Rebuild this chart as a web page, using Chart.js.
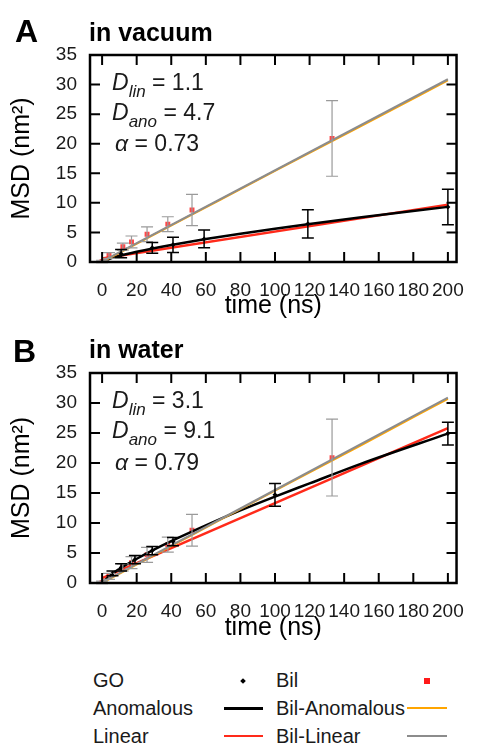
<!DOCTYPE html>
<html>
<head>
<meta charset="utf-8">
<script src="https://cdn.jsdelivr.net/npm/chart.js@4/dist/chart.umd.min.js"></script>
<style>
  html, body { margin:0; padding:0; background:#fff; }
  body { width:481px; height:743px; position:relative; overflow:hidden; font-family:"Liberation Sans", Arial, sans-serif; color:#1a1a1a; }
  canvas { position:absolute; left:0; }
  .t { position:absolute; line-height:1; white-space:nowrap; }
  .panel { font-weight:bold; font-size:32px; color:#000; }
  .ptitle { font-weight:bold; font-size:25px; color:#000; }
  .ann { font-size:23px; }
  .ann sub { font-size:17px; vertical-align:-7px; line-height:1; font-style:italic; }
  .leg { font-size:20px; }
  .ls { position:absolute; }
</style>
</head>
<body>
<canvas id="cA" width="481" height="330" style="top:0px"></canvas>
<canvas id="cB" width="481" height="320" style="top:330px"></canvas>

<div class="t panel" style="left:15px; top:14.6px">A</div>
<div class="t ptitle" style="left:89px; top:19.5px">in vacuum</div>
<div class="t ann" style="left:112px; top:70.5px"><i>D</i><sub>lin</sub> = 1.1</div>
<div class="t ann" style="left:112px; top:100.5px"><i>D</i><sub>ano</sub> = 4.7</div>
<div class="t ann" style="left:115px; top:131.5px"><i>α</i> = 0.73</div>

<div class="t panel" style="left:13px; top:334.6px">B</div>
<div class="t ptitle" style="left:89px; top:337.1px">in water</div>
<div class="t ann" style="left:112px; top:388.5px"><i>D</i><sub>lin</sub> = 3.1</div>
<div class="t ann" style="left:112px; top:418.5px"><i>D</i><sub>ano</sub> = 9.1</div>
<div class="t ann" style="left:115px; top:450.5px"><i>α</i> = 0.79</div>

<!-- legend -->
<div class="t leg" style="left:93px; top:670px">GO</div>
<div class="t leg" style="left:276px; top:670px">Bil</div>
<div class="t leg" style="left:93px; top:698px">Anomalous</div>
<div class="t leg" style="left:276px; top:698px">Bil-Anomalous</div>
<div class="t leg" style="left:93px; top:726px">Linear</div>
<div class="t leg" style="left:276px; top:726px">Bil-Linear</div>
<div class="ls" style="left:241px; top:679px; width:4px; height:4px; background:#000; transform:rotate(45deg)"></div>
<div class="ls" style="left:424px; top:678px; width:6px; height:6px; background:#ff1a1a"></div>
<div class="ls" style="left:224px; top:706.5px; width:39px; height:3px; background:#000"></div>
<div class="ls" style="left:407px; top:707px; width:40px; height:2px; background:#ffa500"></div>
<div class="ls" style="left:224px; top:735px; width:39px; height:2px; background:#ff2a1a"></div>
<div class="ls" style="left:407px; top:734.5px; width:40px; height:2.5px; background:#8c8c8c"></div>

<script>
// ---------- data ----------
const xTickValues = [0, 20, 40, 60, 80, 100, 120, 140, 160, 180, 200];
const yTickValues = [0, 5, 10, 15, 20, 25, 30, 35];

// Bilayer reference (same in both panels)
const bilTime = [0, 4, 12, 17, 26, 38, 52, 133];
const bilMsd  = [0.1, 1.1, 2.6, 3.4, 4.7, 6.4, 8.8, 20.9];
const bilErr  = [0.2, 0.5, 0.6, 1.0, 1.25, 1.25, 2.65, 6.4];
const bilLinTime = [0, 200];
const bilLinMsd  = [0.1, 30.9];
const bilAnoTime = [0, 50, 100, 150, 200];
const bilAnoMsd  = [0, 7.7, 15.4, 23.0, 30.7];

// GO in vacuum
const vacGoTime = [0, 11, 29, 41, 59, 119, 200];
const vacGoMsd  = [0, 1.4, 2.4, 2.9, 3.9, 6.45, 9.3];
const vacGoErr  = [0, 0.7, 0.9, 1.3, 1.5, 2.4, 3.0];
const vacAnoTime = [0, 5, 10, 20, 30, 40, 60, 80, 100, 120, 150, 200];
const vacAnoMsd  = [0, 0.63, 1.05, 1.74, 2.34, 2.88, 3.88, 4.78, 5.62, 6.41, 7.55, 9.32];
const vacLinTime = [0, 200];
const vacLinMsd  = [0.6, 9.7];

// GO in water
const watGoTime = [0, 6, 11, 19, 29, 41, 100, 200];
const watGoMsd  = [0, 1.6, 2.6, 3.9, 5.4, 6.9, 14.7, 24.9];
const watGoErr  = [0, 0.4, 0.6, 0.7, 0.7, 0.7, 1.9, 1.9];
const watAnoTime = [0, 5, 10, 20, 30, 40, 60, 80, 100, 120, 150, 200];
const watAnoMsd  = [0, 1.35, 2.34, 4.04, 5.57, 6.98, 9.6, 12.1, 14.4, 16.6, 19.9, 24.9];
const watLinTime = [0, 200];
const watLinMsd  = [0.8, 25.8];

// ---------- helpers ----------
const pts = (xs, ys) => xs.map((x, i) => ({x, y: ys[i]}));

const framePlugin = {
  id: 'frame',
  afterDraw(chart) {
    const {ctx, chartArea: a, scales: {x, y}} = chart;
    ctx.save();
    ctx.strokeStyle = '#000';
    ctx.lineWidth = 2;
    ctx.beginPath();
    x.ticks.forEach(t => {
      const px = x.getPixelForValue(t.value);
      ctx.moveTo(px, a.bottom); ctx.lineTo(px, a.bottom - 10);
      ctx.moveTo(px, a.top); ctx.lineTo(px, a.top + 10);
    });
    y.ticks.forEach(t => {
      const py = y.getPixelForValue(t.value);
      ctx.moveTo(a.left, py); ctx.lineTo(a.left + 10, py);
      ctx.moveTo(a.right, py); ctx.lineTo(a.right - 10, py);
    });
    ctx.stroke();
    ctx.lineWidth = 2.5;
    ctx.strokeRect(a.left, a.top, a.right - a.left, a.bottom - a.top);
    ctx.restore();
  }
};

const errPlugin = {
  id: 'errbars',
  afterDatasetsDraw(chart, args, opts) {
    const {ctx, scales: {x, y}} = chart;
    ctx.save();
    (opts.sets || []).forEach(s => {
      ctx.strokeStyle = s.color;
      ctx.lineWidth = s.width;
      ctx.beginPath();
      s.t.forEach((t, i) => {
        if (!s.e[i]) return;
        const px = x.getPixelForValue(t);
        const pl = y.getPixelForValue(s.v[i] - s.e[i]);
        const ph = y.getPixelForValue(s.v[i] + s.e[i]);
        ctx.moveTo(px, pl); ctx.lineTo(px, ph);
        ctx.moveTo(px - s.cap, pl); ctx.lineTo(px + s.cap, pl);
        ctx.moveTo(px - s.cap, ph); ctx.lineTo(px + s.cap, ph);
      });
      ctx.stroke();
    });
    ctx.restore();
  }
};

function makeChart(id, topPad, titlePadBottom, scaleH, go, ano, lin) {
  const lineDs = (data, color, w, order) => ({
    type: 'line', data, borderColor: color, borderWidth: w, pointRadius: 0,
    fill: false, cubicInterpolationMode: 'monotone', order
  });
  return new Chart(document.getElementById(id), {
    type: 'scatter',
    data: {
      datasets: [
        { data: pts(go.t, go.v), pointStyle: 'rectRot', pointRadius: 2.5,
          backgroundColor: '#000', borderColor: '#000', borderWidth: 0, order: 0 },
        lineDs(pts(bilLinTime, bilLinMsd), '#8c8c8c', 2, 1),
        lineDs(pts(bilAnoTime, bilAnoMsd), '#ffa500', 2, 2),
        lineDs(pts(ano.t, ano.v), '#000', 2.5, 3),
        lineDs(pts(lin.t, lin.v), '#ff2a1a', 2.5, 4),
        { data: pts(bilTime, bilMsd), pointStyle: 'rect', pointRadius: 3.5,
          backgroundColor: 'rgba(255,40,40,0.85)', borderWidth: 0, order: 5 }
      ]
    },
    options: {
      responsive: false, animation: false, events: [],
      layout: { padding: { top: topPad, right: 11, bottom: 0, left: 0 } },
      plugins: {
        legend: { display: false }, tooltip: { enabled: false },
        errbars: { sets: [
          { t: bilTime, v: bilMsd, e: bilErr, color: '#9a9a9a', width: 1.2, cap: 6 },
          { t: go.t, v: go.v, e: go.e, color: '#000', width: 1.5, cap: 6 }
        ] }
      },
      scales: {
        x: {
          type: 'linear', min: -7, max: 205,
          afterBuildTicks: s => { s.ticks = xTickValues.map(v => ({value: v})); },
          afterFit: s => { s.height = scaleH; },
          grid: { display: false, drawTicks: false }, border: { display: false },
          ticks: { autoSkip: false, maxRotation: 0, padding: 17, color: '#1a1a1a',
                   font: { family: 'Liberation Sans', size: 19 } },
          title: { display: true, text: 'time (ns)', color: '#000',
                   font: { family: 'Liberation Sans', size: 25 },
                   padding: { top: 0, bottom: titlePadBottom } }
        },
        y: {
          type: 'linear', min: 0, max: 35,
          afterBuildTicks: s => { s.ticks = yTickValues.map(v => ({value: v})); },
          afterFit: s => { s.width = 90; },
          grid: { display: false, drawTicks: false }, border: { display: false },
          ticks: { padding: 13, color: '#1a1a1a', font: { family: 'Liberation Sans', size: 19 } },
          title: { display: true, text: 'MSD (nm²)', color: '#000',
                   font: { family: 'Liberation Sans', size: 25 },
                   padding: { top: 7, bottom: 0 } }
        }
      }
    },
    plugins: [errPlugin, framePlugin]
  });
}

makeChart('cA', 55, 9, 68,
  { t: vacGoTime, v: vacGoMsd, e: vacGoErr },
  { t: vacAnoTime, v: vacAnoMsd },
  { t: vacLinTime, v: vacLinMsd });
makeChart('cB', 43, 7, 67,
  { t: watGoTime, v: watGoMsd, e: watGoErr },
  { t: watAnoTime, v: watAnoMsd },
  { t: watLinTime, v: watLinMsd });
</script>
</body>
</html>
